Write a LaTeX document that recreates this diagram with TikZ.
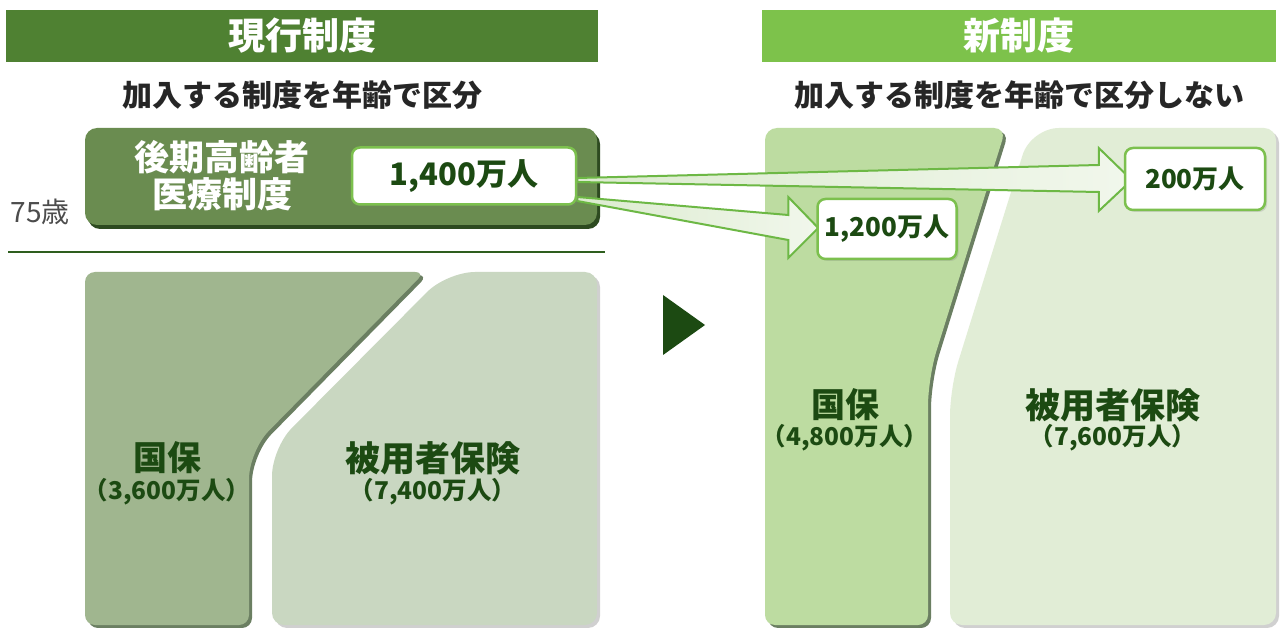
\documentclass[tikz,border=0pt]{standalone}
\usepackage{fontspec}
\setmainfont{Noto Sans CJK JP}
\usetikzlibrary{shadows,calc}

\definecolor{headdark}{HTML}{4F8132}
\definecolor{headlight}{HTML}{7DC24B}
\definecolor{oldbox}{HTML}{6A8C50}
\definecolor{kokuhoOld}{HTML}{A0B68F}
\definecolor{hiyoOld}{HTML}{C9D7C1}
\definecolor{kokuhoNew}{HTML}{BDDCA1}
\definecolor{hiyoNew}{HTML}{E1EDD6}
\definecolor{txtgreen}{HTML}{1C4A12}
\definecolor{boxline}{HTML}{7CC04E}
\definecolor{arrline}{HTML}{6DB845}
\definecolor{arrfill}{HTML}{DCEBCF}
\definecolor{rulegreen}{HTML}{2E5E1E}
\definecolor{shadegreen}{HTML}{2D4A20}

\pgfdeclarelayer{front}
\pgfsetlayers{main,front}

\begin{document}
\begin{tikzpicture}[x=1pt,y=-1pt,
  jp/.style={font=\bfseries\fontsize{#1}{#1}\selectfont},
  numbox/.style={draw=boxline, line width=2.5pt, fill=white, rounded corners=8pt,
    inner sep=0pt, text=txtgreen,
    drop shadow={opacity=0.25, shadow xshift=2pt, shadow yshift=-2pt}},
  fatarrow/.style={draw=arrline, line width=2pt, line join=miter, left color=arrfill, right color=arrfill!40!white},
  darkblock/.style={drop shadow={fill=shadegreen, opacity=0.7, shadow xshift=3pt, shadow yshift=-3pt}},
  paleblock/.style={drop shadow={fill=black!60, opacity=0.3, shadow xshift=3pt, shadow yshift=-3pt}}]
\useasboundingbox (0,0) rectangle (1280,628);
\fill[white] (0,0) rectangle (1280,628);

% headers
\fill[headdark] (6,10) rectangle (598,62);
\node[jp=37, text=white] (headold) at (302,36) {現行制度};
\fill[headlight] (762,10) rectangle (1276,62);
\node[jp=37, text=white] (headnew) at (1019,36) {新制度};
\node[jp=30, text=black!85] (subold) at (302,95) {加入する制度を年齢で区分};
\node[jp=30, text=black!85] (subnew) at (1019,95) {加入する制度を年齢で区分しない};

% current system
\fill[shadegreen, rounded corners=12pt] (88,132) rectangle (600,229);
\fill[oldbox, rounded corners=12pt] (85,128) rectangle (597,225);
\node[font=\bfseries\fontsize{35}{37}\selectfont, text=white, align=center] (koki) at (222,176) {後期高齢者\\医療制度};
\node[font=\fontsize{28}{28}\selectfont, text=black!70] (age) at (40,212) {75歳};
\draw[rulegreen, line width=1.5pt] (8,252) -- (605,252);

\fill[kokuhoOld, darkblock] (85,625) [rounded corners=10pt] -- (85,272) -- (425,272)
  [rounded corners=28pt] -- (249,451) [rounded corners=10pt] -- (249,625) -- cycle;
\fill[hiyoOld, paleblock] (272,625) [rounded corners=28pt] -- (272,448) -- (447,272)
  [rounded corners=12pt] -- (597,272) -- (597,625) -- cycle;
\node[jp=34, text=txtgreen] (kokuhoA) at (167,458) {国保};
\node[jp=24.5, text=txtgreen] (kokuhoAn) at (167,492) {（3,600万人）};
\node[jp=35, text=txtgreen] (hiyoA) at (433,458) {被用者保険};
\node[jp=24.5, text=txtgreen] (hiyoAn) at (433,492) {（7,400万人）};

% triangle
\fill[txtgreen] (663,295) -- (705,325) -- (663,355) -- cycle;

% new system
\fill[kokuhoNew, darkblock] (765,625) [rounded corners=12pt] -- (765,128) -- (1006,128)
  [rounded corners=28pt] -- (928,378) [rounded corners=10pt] -- (928,625) -- cycle;
\fill[hiyoNew, paleblock] (950,625) [rounded corners=28pt] -- (950,388) -- (1031,128)
  [rounded corners=12pt] -- (1276,128) -- (1276,625) -- cycle;
\node[jp=34, text=txtgreen] (kokuhoB) at (845,405) {国保};
\node[jp=24.5, text=txtgreen] (kokuhoBn) at (845,438) {（4,800万人）};
\node[jp=35, text=txtgreen] (hiyoB) at (1113,405) {被用者保険};
\node[jp=24.5, text=txtgreen] (hiyoBn) at (1113,438) {（7,600万人）};

% counts
\begin{pgfonlayer}{front}
\node[numbox, jp=31, minimum width=224pt, minimum height=57pt] (n1400) at (464,176) {1,400万人};
\node[numbox, jp=26, minimum width=140pt, minimum height=62pt] (n200) at (1195,179) {200万人};
\node[numbox, jp=26, minimum width=139pt, minimum height=60pt] (n1200) at (887,229) {1,200万人};
\end{pgfonlayer}
\coordinate (tip200) at ($(n200.west)+(8,1)$);
\coordinate (tip1200) at ($(n1200.west)+(2,-1)$);
\draw[fatarrow] ($(n1400.east)+(0,2)$) -- ($(tip200)+(-33,-15)$) -- ($(tip200)+(-33,-32)$)
  -- (tip200) -- ($(tip200)+(-33,31)$) -- ($(tip200)+(-33,12)$) -- ($(n1400.east)+(0,6)$) -- cycle;
\draw[fatarrow] ($(n1400.east)+(0,21)$) -- ($(tip1200)+(-30,-13)$) -- ($(tip1200)+(-30,-31)$)
  -- (tip1200) -- ($(tip1200)+(-30,30)$) -- ($(tip1200)+(-30,12)$) -- ($(n1400.east)+(0,25)$) -- cycle;
\end{tikzpicture}
\end{document}
